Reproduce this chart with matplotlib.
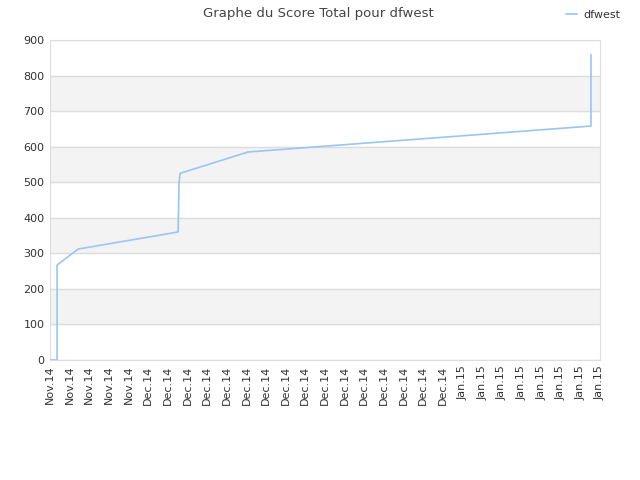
import matplotlib
matplotlib.use("Agg")
import matplotlib.pyplot as plt

# Score history for dfwest (x in tick-slot units, y = total score)
x_vals = [0.0, 0.36, 0.36, 1.43, 6.52, 6.57, 6.62, 10.08, 27.54, 27.54]
scores = [0, 0, 267, 312, 360, 498, 525, 585, 658, 858]

tick_labels = ["Nov.14"] * 5 + ["Dec.14"] * 16 + ["Jan.15"] * 8
y_ticks = [0, 100, 200, 300, 400, 500, 600, 700, 800, 900]

fig = plt.figure(figsize=(6.4, 4.8), dpi=100)
ax = fig.add_axes([50 / 640, 120 / 480, 550 / 640, 320 / 480])

# alternating grey bands
for lo in range(100, 900, 200):
    ax.axhspan(lo, lo + 100, color="#f3f3f3", zorder=0)
for y in y_ticks:
    ax.axhline(y, color="#dddddd", lw=1, zorder=1)

ax.plot(x_vals, scores, color="#99c6f3", lw=1.2, label="dfwest", zorder=3)

ax.set_xlim(0, len(tick_labels) - 1)
ax.set_ylim(0, 900)
ax.set_yticks(y_ticks)
ax.set_xticks(range(len(tick_labels)))
ax.set_xticklabels(tick_labels, rotation=90)
ax.tick_params(length=0, labelsize=8, colors="#333333", pad=4)
for s in ax.spines.values():
    s.set_color("#dddddd")

fig.suptitle("Graphe du Score Total pour dfwest", x=0.497, y=0.985,
             fontsize=9.5, color="#444444")
fig.legend(loc="upper right", bbox_to_anchor=(0.985, 1.0), frameon=False,
           fontsize=8, handlelength=1.0, handletextpad=0.6,
           labelcolor="#333333")

fig.savefig("out.png", dpi=100)
